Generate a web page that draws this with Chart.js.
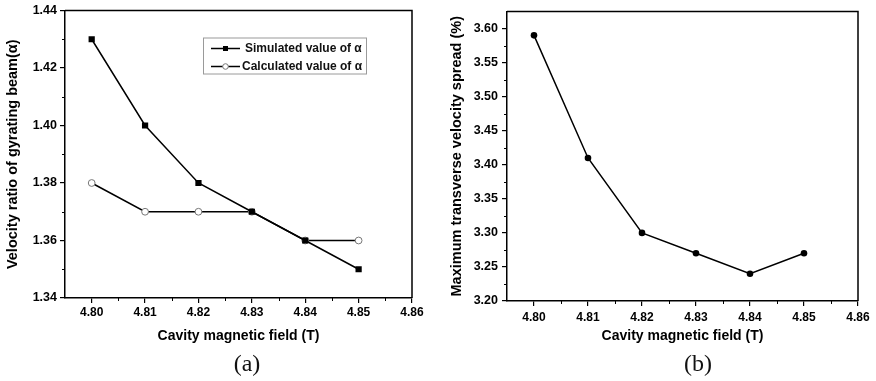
<!DOCTYPE html>
<html>
<head>
<meta charset="utf-8">
<script src="https://cdn.jsdelivr.net/npm/chart.js@4"></script>
<style>
  html, body { margin: 0; padding: 0; background: #fff; }
  body { width: 876px; height: 381px; position: relative; overflow: hidden; }
  .panel { position: absolute; top: 0; }
  #wrapA { left: 0; width: 436px; height: 381px; }
  #wrapB { left: 436px; width: 440px; height: 381px; }
  .tag {
    position: absolute; top: 349px; line-height: 28px;
    font-family: "Liberation Serif", "Times New Roman", serif;
    font-size: 24px; color: #111; transform: translateX(-50%);
  }
</style>
</head>
<body>
<div class="panel" id="wrapA"><canvas id="chartA" width="436" height="381"></canvas></div>
<div class="panel" id="wrapB"><canvas id="chartB" width="440" height="381"></canvas></div>
<div class="tag" style="left:247px">(a)</div>
<div class="tag" style="left:698px">(b)</div>
<script>
// cavity magnetic field (T)
var field = [4.80, 4.81, 4.82, 4.83, 4.84, 4.85];
// panel (a)
var simulatedAlpha = [1.43, 1.40, 1.38, 1.37, 1.36, 1.35];
var calculatedAlpha = [1.38, 1.37, 1.37, 1.37, 1.36, 1.36];
// panel (b)
var velocitySpread = [3.59, 3.41, 3.30, 3.27, 3.24, 3.27];

// tick labels
var fieldTicks = [4.80, 4.81, 4.82, 4.83, 4.84, 4.85, 4.86];
var alphaTicks = [1.34, 1.36, 1.38, 1.40, 1.42, 1.44];
var spreadTicks = [3.20, 3.25, 3.30, 3.35, 3.40, 3.45, 3.50, 3.55, 3.60];

var FONT = '"Liberation Sans", Arial, sans-serif';

function pts(xs, ys) {
	return xs.map(function(x, i) { return {x: x, y: ys[i]}; });
}

// top/right frame + minor ticks
var framePlugin = {
	id: 'frame',
	afterDraw: function(chart) {
		var a = chart.chartArea, ctx = chart.ctx;
		var xs = chart.scales.x, ys = chart.scales.y;
		ctx.save();
		ctx.strokeStyle = '#000';
		ctx.lineWidth = 1.5;
		ctx.beginPath();
		ctx.moveTo(a.left, a.top);
		ctx.lineTo(a.right, a.top);
		ctx.lineTo(a.right, a.bottom);
		ctx.stroke();

		ctx.lineWidth = 1;
		ctx.beginPath();
		for (var i = 0; i < xs.ticks.length - 1; i++) {
			var px = Math.round(xs.getPixelForValue((xs.ticks[i].value + xs.ticks[i + 1].value) / 2)) + 0.5;
			ctx.moveTo(px, a.bottom);
			ctx.lineTo(px, a.bottom + 3);
		}
		for (var j = 0; j < ys.ticks.length - 1; j++) {
			var py = Math.round(ys.getPixelForValue((ys.ticks[j].value + ys.ticks[j + 1].value) / 2)) + 0.5;
			ctx.moveTo(a.left, py);
			ctx.lineTo(a.left - 3, py);
		}
		ctx.stroke();
		ctx.restore();
	}
};

// boxed legend inside plot (a)
var legendBoxPlugin = {
	id: 'legendBox',
	afterDraw: function(chart) {
		var a = chart.chartArea, ctx = chart.ctx;
		var bx = a.left + 138, by = a.top + 27, bw = 163, bh = 36;
		ctx.save();
		ctx.strokeStyle = '#9a9a9a';
		ctx.lineWidth = 1;
		ctx.strokeRect(bx + 0.5, by + 0.5, bw, bh);

		ctx.font = 'bold 12px ' + FONT;
		ctx.textBaseline = 'middle';
		ctx.fillStyle = '#111';
		chart.data.datasets.forEach(function(ds, i) {
			var y = by + 11 + i * 18;
			var lx0 = bx + 8, lx1 = bx + 37, mx = (lx0 + lx1) / 2;
			ctx.strokeStyle = '#000';
			ctx.lineWidth = 1.5;
			ctx.beginPath();
			ctx.moveTo(lx0, y);
			ctx.lineTo(lx1, y);
			ctx.stroke();
			if (ds.pointStyle === 'rect') {
				ctx.fillStyle = '#000';
				ctx.fillRect(mx - 2.5, y - 2.5, 5, 5);
			} else {
				ctx.beginPath();
				ctx.arc(mx, y, 2.8, 0, Math.PI * 2);
				ctx.fillStyle = '#fff';
				ctx.fill();
				ctx.strokeStyle = '#777';
				ctx.lineWidth = 1;
				ctx.stroke();
			}
			ctx.fillStyle = '#111';
			ctx.fillText(ds.label, i === 0 ? lx1 + 5 : lx1 + 2, y);
		});
		ctx.restore();
	}
};

function axisOptions(cfg) {
	return {
		x: {
			type: 'linear',
			min: 4.795,
			max: 4.86,
			afterBuildTicks: function(s) { s.ticks = fieldTicks.map(function(v) { return {value: v}; }); },
			afterFit: function(s) { s.height = cfg.xHeight; },
			ticks: {
				color: '#000',
				padding: cfg.xPad,
				maxRotation: 0,
				autoSkip: false,
				font: {family: FONT, size: 12, weight: 'bold'},
				callback: function(v) { return v.toFixed(2); }
			},
			grid: {drawOnChartArea: false, color: '#000', lineWidth: 1.2, tickLength: 5},
			border: {color: '#000', width: 1.5},
			title: {
				display: true,
				text: 'Cavity magnetic field (T)',
				color: '#000',
				padding: {top: 0, bottom: 0},
				font: {family: FONT, size: 14, weight: 'bold'}
			}
		},
		y: {
			type: 'linear',
			min: cfg.yMin,
			max: cfg.yMax,
			afterBuildTicks: function(s) { s.ticks = cfg.yTicks.map(function(v) { return {value: v}; }); },
			afterFit: function(s) { s.width = cfg.yWidth; },
			ticks: {
				color: '#000',
				padding: cfg.yPad,
				autoSkip: false,
				font: {family: FONT, size: 12.5, weight: 'bold'},
				callback: function(v) { return v.toFixed(2); }
			},
			grid: {drawOnChartArea: false, color: '#000', lineWidth: 1.2, tickLength: 5},
			border: {color: '#000', width: 1.5},
			title: {
				display: true,
				text: cfg.yTitle,
				color: '#000',
				padding: {top: cfg.yTitlePad, bottom: 0},
				font: {family: FONT, size: 14.5, weight: 'bold'}
			}
		}
	};
}

var chartA = new Chart(document.getElementById('chartA').getContext('2d'), {
	type: 'line',
	data: {
		datasets: [{
			label: 'Simulated value of α',
			data: pts(field, simulatedAlpha),
			borderColor: '#000',
			borderWidth: 1.5,
			pointStyle: 'rect',
			pointRadius: 4.4,
			pointBackgroundColor: '#000',
			pointBorderColor: '#000',
			pointBorderWidth: 0,
			tension: 0
		}, {
			label: 'Calculated value of α',
			data: pts(field, calculatedAlpha),
			borderColor: '#000',
			borderWidth: 1.5,
			pointStyle: 'circle',
			pointRadius: 3.4,
			pointBackgroundColor: '#fff',
			pointBorderColor: '#777',
			pointBorderWidth: 1,
			tension: 0
		}]
	},
	options: {
		responsive: false,
		animation: false,
		devicePixelRatio: 1,
		layout: {padding: {left: 0, top: 10, right: 24, bottom: 36}},
		plugins: {legend: {display: false}, tooltip: {enabled: false}},
		scales: axisOptions({
			xHeight: 47, xPad: 2, yPad: 3, yWidth: 65, yTitlePad: 4,
			yMin: 1.34, yMax: 1.44, yTicks: alphaTicks,
			yTitle: 'Velocity ratio of gyrating beam(α)'
		})
	},
	plugins: [framePlugin, legendBoxPlugin]
});

var chartB = new Chart(document.getElementById('chartB').getContext('2d'), {
	type: 'line',
	data: {
		datasets: [{
			label: 'Maximum transverse velocity spread',
			data: pts(field, velocitySpread),
			borderColor: '#000',
			borderWidth: 1.5,
			pointStyle: 'circle',
			pointRadius: 3.3,
			pointBackgroundColor: '#000',
			pointBorderColor: '#000',
			pointBorderWidth: 0,
			tension: 0
		}]
	},
	options: {
		responsive: false,
		animation: false,
		devicePixelRatio: 1,
		layout: {padding: {left: 0, top: 10, right: 18, bottom: 36}},
		plugins: {legend: {display: false}, tooltip: {enabled: false}},
		scales: axisOptions({
			xHeight: 44, xPad: 4, yPad: 4, yWidth: 71, yTitlePad: 12,
			yMin: 3.20, yMax: 3.625, yTicks: spreadTicks,
			yTitle: 'Maximum transverse velocity spread (%)'
		})
	},
	plugins: [framePlugin]
});
</script>
</body>
</html>
